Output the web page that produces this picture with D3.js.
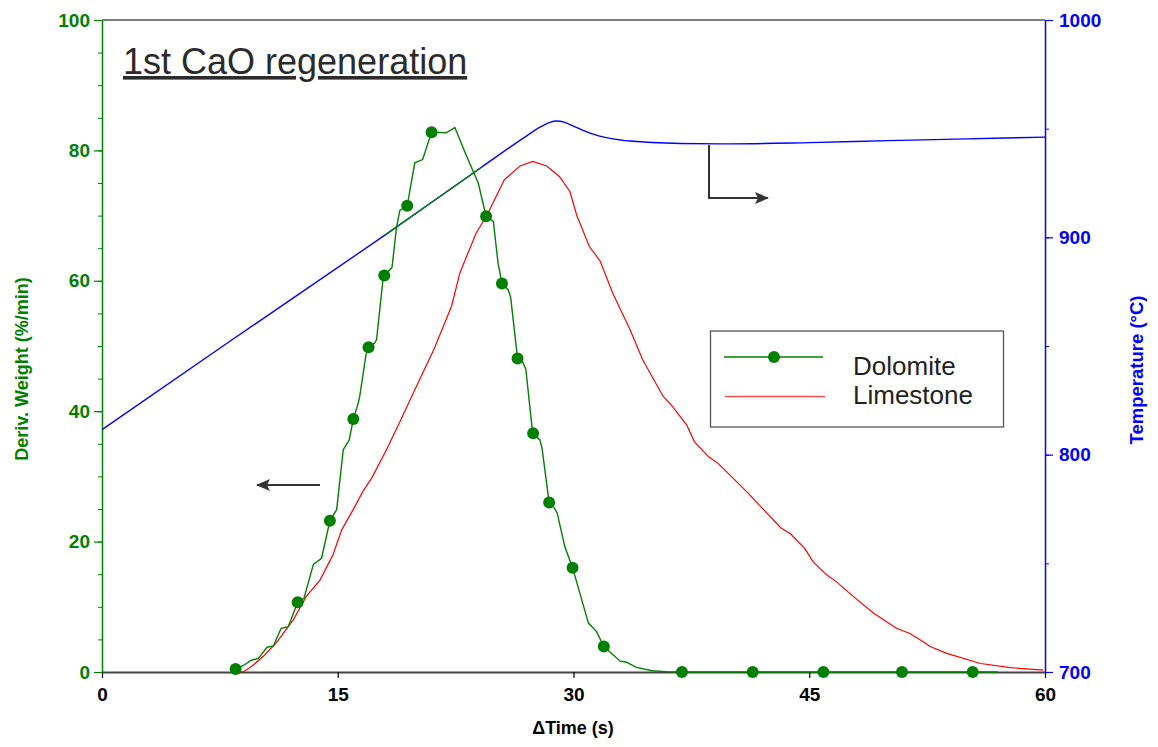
<!DOCTYPE html>
<html>
<head>
<meta charset="utf-8">
<script src="https://cdn.jsdelivr.net/npm/d3@7"></script>
<style>
  body { margin: 0; background: #fff; }
  svg { font-family: "Liberation Sans", Arial, sans-serif; }
</style>
</head>
<body>
<svg id="chart" width="1158" height="747"></svg>
<script>
// time (s) / deriv. weight (%/min) for dolomite
const dolT = [8.3, 8.5, 9.0, 9.5, 9.95, 10.5, 10.9, 11.4, 11.85, 12.45, 12.85, 13.45, 13.97, 14.5, 14.93,
  15.35, 15.73, 15.99, 16.3, 16.4, 16.8, 16.96, 17.36, 17.47, 17.86, 17.96, 18.27, 18.45, 18.74, 18.95,
  19.42, 19.9, 20.4, 20.97, 21.9, 22.45, 23.2, 23.94, 24.44, 24.9, 25.2, 25.45, 25.85, 26.0, 26.44,
  26.8, 26.97, 27.33, 27.43, 27.86, 28.0, 28.4, 28.45, 28.8, 28.96, 29.45, 29.94, 30.95, 31.47, 31.93,
  32.95, 33.37, 34.0, 35.0, 35.9, 36.9, 41.4, 45.9, 50.9, 55.4, 57]
const dolV = [0, 0.46, 1.0, 1.8, 2.1, 3.8, 4.0, 6.7, 6.95, 10.7, 11.3, 16.5, 17.45, 23.2, 24.9,
  34.1, 35.6, 38.8, 41.2, 42.3, 48.7, 49.8, 50.5, 51.0, 59.8, 60.8, 61.6, 62.0, 68.2, 70.8,
  71.5, 78.1, 78.6, 82.8, 82.7, 83.5, 79.1, 75.0, 69.9, 69.1, 62.7, 59.6, 58.6, 57.5, 48.1,
  47.4, 46.4, 38.2, 36.6, 35.6, 34.3, 26.9, 26.0, 25.1, 24.4, 19.2, 16.0, 7.5, 6.2, 3.9,
  1.7, 1.5, 0.7, 0.2, 0.05, 0, 0, 0, 0, 0, 0]
const dolMarkT = [8.5, 12.45, 14.5, 15.99, 16.96, 17.96, 19.42, 20.97, 24.44, 25.45, 26.44, 27.43, 28.45,
  29.94, 31.93, 36.9, 41.4, 45.9, 50.9, 55.4]
const dolMarkV = [0.46, 10.7, 23.2, 38.8, 49.8, 60.8, 71.5, 82.8, 69.9, 59.6, 48.1, 36.6, 26.0,
  16.0, 3.9, 0, 0, 0, 0, 0]

// limestone
const limT = [8.8, 9.0, 9.5, 10.3, 11.1, 12.17, 13.0, 13.87, 14.7, 15.25, 15.98, 16.6, 17.15, 18.1, 19.0,
  20.0, 21.1, 22.24, 22.77, 23.8, 24.5, 25.6, 26.6, 27.4, 28.3, 29.1, 29.77, 30.2, 31.0, 31.7, 32.5,
  33.6, 34.4, 35.7, 36.2, 37.2, 37.7, 38.6, 39.2, 41.0, 43.2, 43.8, 44.7, 45.25, 46.1, 46.7, 47.8,
  49.1, 50.55, 51.4, 52.15, 52.7, 53.7, 55.9, 57.8, 59.9]
const limV = [0, 0.05, 0.8, 2.5, 4.5, 8.0, 11.6, 14.1, 18.0, 21.8, 24.9, 27.7, 29.7, 34.1, 38.6,
  43.8, 49.4, 56.1, 61.2, 67.3, 70.1, 75.5, 77.6, 78.3, 77.6, 76.0, 73.7, 70.1, 65.3, 63.0, 58.1,
  52.5, 47.9, 42.3, 41.0, 37.9, 35.3, 33.0, 32.0, 27.7, 22.1, 21.2, 19.0, 16.9, 14.9, 13.9, 11.6,
  9.0, 6.7, 5.9, 4.8, 3.9, 2.9, 1.3, 0.66, 0.3]

// temperature (°C)
const tempT = [0, 8, 18, 24.1, 27.0, 27.9, 28.5, 28.9, 29.4, 30.0, 30.8, 31.6, 32.5, 33.6, 36.8, 40, 45, 50, 55, 60]
const tempV = [811.5, 851.5, 901, 932, 946.6, 950.8, 952.9, 953.5, 953.0, 951.2, 948.6, 946.7, 945.3, 944.3, 943.2, 943, 943.6, 944.5, 945.3, 946.1]
// stretch where the dolomite temperature trace is drawn on top (green)
const dolTempRange = [18, 24.1]

const xTicks = [0, 15, 30, 45, 60]
const yTicks = [0, 20, 40, 60, 80, 100]
const tTicks = [700, 800, 900, 1000]

const GREEN = '#008000', BLUE = '#0000ff', RED = '#ff0000', DARK = '#333333'

const svg = d3.select('#chart')
const mLeft = 102, mRight = 1045, mTop = 20, mBottom = 672

const x = d3.scaleLinear().domain([0, 60]).range([mLeft, mRight])
const y = d3.scaleLinear().domain([0, 100]).range([mBottom, mTop])
const yT = d3.scaleLinear().domain([700, 1000]).range([mBottom, mTop])

const zip = (a, b) => a.map((d, i) => [d, b[i]])
const FONT = '"Liberation Sans", Arial, sans-serif'

// frame top
svg.append('line').attr('x1', mLeft).attr('x2', mRight).attr('y1', mTop).attr('y2', mTop)
  .attr('stroke', '#000').attr('stroke-width', 1.2)

// bottom axis
const xAxis = svg.append('g').attr('transform', `translate(0,${mBottom})`)
  .call(d3.axisBottom(x).tickValues(xTicks).tickSize(6).tickPadding(10).tickSizeOuter(0))
xAxis.select('.domain').attr('stroke', '#444').attr('stroke-width', 2)
xAxis.selectAll('.tick line').attr('stroke', '#000').attr('stroke-width', 1.2)
xAxis.selectAll('.tick text').attr('font-size', 19).attr('font-weight', 'bold').attr('fill', '#000')
  .attr('font-family', FONT)

// left axis: minor ticks every 5
const yAxisMinor = svg.append('g').attr('transform', `translate(${mLeft},0)`)
  .call(d3.axisLeft(y).tickValues(d3.range(0, 101, 5)).tickSize(4).tickFormat('').tickSizeOuter(0))
yAxisMinor.select('.domain').remove()
yAxisMinor.selectAll('line').attr('stroke', GREEN)
const yAxis = svg.append('g').attr('transform', `translate(${mLeft},0)`)
  .call(d3.axisLeft(y).tickValues(yTicks).tickSize(8).tickPadding(4).tickSizeOuter(0))
yAxis.select('.domain').attr('stroke', GREEN).attr('stroke-width', 1.5)
yAxis.selectAll('.tick line').attr('stroke', GREEN).attr('stroke-width', 1.2)
yAxis.selectAll('.tick text').attr('font-size', 19).attr('font-weight', 'bold').attr('fill', GREEN)
  .attr('font-family', FONT)

// right axis: minor ticks every 50
const tAxisMinor = svg.append('g').attr('transform', `translate(${mRight},0)`)
  .call(d3.axisRight(yT).tickValues(d3.range(700, 1001, 50)).tickSize(4).tickFormat('').tickSizeOuter(0))
tAxisMinor.select('.domain').remove()
tAxisMinor.selectAll('line').attr('stroke', BLUE)
const tAxis = svg.append('g').attr('transform', `translate(${mRight},0)`)
  .call(d3.axisRight(yT).tickValues(tTicks).tickFormat(d3.format('d')).tickSize(8).tickPadding(6).tickSizeOuter(0))
tAxis.select('.domain').attr('stroke', BLUE).attr('stroke-width', 1.5)
tAxis.selectAll('.tick line').attr('stroke', BLUE).attr('stroke-width', 1.2)
tAxis.selectAll('.tick text').attr('font-size', 19).attr('font-weight', 'bold').attr('fill', BLUE)
  .attr('font-family', FONT)

// axis titles
svg.append('text').attr('x', 573).attr('y', 734).attr('text-anchor', 'middle')
  .attr('font-size', 18).attr('font-weight', 'bold').attr('fill', '#000').text('\u0394Time (s)')
svg.append('text').attr('transform', 'translate(28,369) rotate(-90)').attr('text-anchor', 'middle')
  .attr('font-size', 18).attr('font-weight', 'bold').attr('fill', GREEN).text('Deriv. Weight (%/min)')
svg.append('text').attr('transform', 'translate(1143,370) rotate(-90)').attr('text-anchor', 'middle')
  .attr('font-size', 18.5).attr('font-weight', 'bold').attr('fill', BLUE).text('Temperature (\u00b0C)')

// curves
const lineW = d3.line().x(d => x(d[0])).y(d => y(d[1]))
const lineT = d3.line().x(d => x(d[0])).y(d => yT(d[1])).curve(d3.curveMonotoneX)

const tempPath = lineT(zip(tempT, tempV))
svg.append('path').attr('d', tempPath).attr('fill', 'none').attr('stroke', BLUE).attr('stroke-width', 1.4)

svg.append('clipPath').attr('id', 'dolTemp').append('rect')
  .attr('x', x(dolTempRange[0])).attr('width', x(dolTempRange[1]) - x(dolTempRange[0]))
  .attr('y', mTop).attr('height', mBottom - mTop)
svg.append('path').attr('d', tempPath).attr('clip-path', 'url(#dolTemp)')
  .attr('fill', 'none').attr('stroke', GREEN).attr('stroke-width', 1.4)

svg.append('path').attr('d', lineW(zip(limT, limV))).attr('fill', 'none')
  .attr('stroke', RED).attr('stroke-width', 1.2)
svg.append('path').attr('d', lineW(zip(dolT, dolV))).attr('fill', 'none')
  .attr('stroke', GREEN).attr('stroke-width', 1.4)
svg.append('g').selectAll('circle').data(zip(dolMarkT, dolMarkV)).join('circle')
  .attr('cx', d => x(d[0])).attr('cy', d => y(d[1])).attr('r', 6).attr('fill', GREEN)

// title
svg.append('text').attr('x', 123).attr('y', 74).attr('font-size', 36).attr('fill', '#2b2b2b')
  .attr('text-decoration', 'underline').text('1st CaO regeneration')

// arrows
const defs = svg.append('defs')
defs.append('marker').attr('id', 'head').attr('viewBox', '0 0 14 12').attr('refX', 13).attr('refY', 6)
  .attr('markerWidth', 14).attr('markerHeight', 12).attr('markerUnits', 'userSpaceOnUse').attr('orient', 'auto')
  .append('path').attr('d', 'M0,0 L14,6 L0,12 L3,6 Z').attr('fill', DARK)
svg.append('path').attr('d', 'M320,485 L257,485').attr('stroke', DARK).attr('stroke-width', 2)
  .attr('fill', 'none').attr('marker-end', 'url(#head)')
svg.append('path').attr('d', 'M709,145 L709,198 L768,198').attr('stroke', DARK).attr('stroke-width', 2)
  .attr('fill', 'none').attr('marker-end', 'url(#head)')

// legend
const lg = svg.append('g')
lg.append('rect').attr('x', 710.5).attr('y', 331).attr('width', 293).attr('height', 96)
  .attr('fill', '#fff').attr('stroke', '#555').attr('stroke-width', 1.3)
lg.append('line').attr('x1', 724).attr('x2', 823).attr('y1', 357).attr('y2', 357)
  .attr('stroke', GREEN).attr('stroke-width', 1.3)
lg.append('circle').attr('cx', 774).attr('cy', 357).attr('r', 6).attr('fill', GREEN)
lg.append('line').attr('x1', 725).attr('x2', 825).attr('y1', 396.5).attr('y2', 396.5)
  .attr('stroke', '#f05050').attr('stroke-width', 1.4)
lg.append('text').attr('x', 853).attr('y', 375).attr('font-size', 26).attr('fill', '#222').text('Dolomite')
lg.append('text').attr('x', 853).attr('y', 404).attr('font-size', 26).attr('fill', '#222').text('Limestone')
</script>
</body>
</html>
